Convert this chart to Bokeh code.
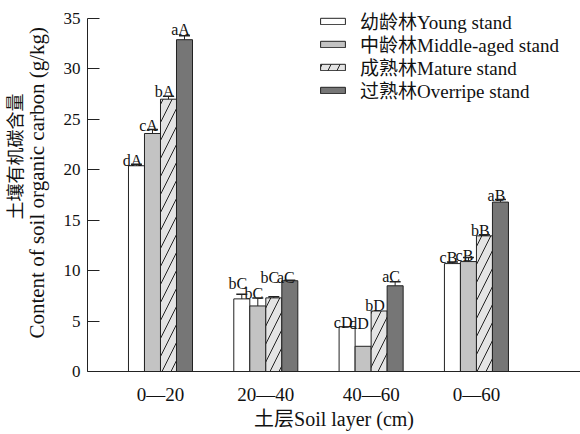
from bokeh.plotting import figure
from bokeh.models import (FixedTicker, LinearAxis, Range1d, Whisker, TeeHead,
                          ColumnDataSource, Legend, LegendItem)
from bokeh.core.properties import value
from bokeh.embed import file_html
from bokeh.resources import INLINE

# ---------------- data ----------------
layers = ["0—20", "20—40", "40—60", "0—60"]
stands = ["幼龄林Young stand", "中龄林Middle-aged stand", "成熟林Mature stand", "过熟林Overripe stand"]
young = [20.4, 7.2, 4.45, 10.7]
middle = [23.6, 6.5, 2.5, 10.9]
mature = [27.0, 7.3, 6.0, 13.45]
overripe = [32.9, 9.0, 8.5, 16.8]
young_err = [0.15, 0.45, 0.0, 0.15]
middle_err = [0.4, 0.8, 0.0, 0.4]
mature_err = [0.3, 0.1, 0.0, 0.1]
overripe_err = [0.4, 0.05, 0.4, 0.25]
young_sig = ["dA", "bC", "cD", "cB"]
middle_sig = ["cA", "bC", "dD", "cB"]
mature_sig = ["bA", "bC", "bD", "bB"]
overripe_sig = ["aA", "aC", "aC", "aB"]
# heights (data units) at which the significance letters sit in the figure
young_sig_y = [20.92, 8.70, 4.89, 11.27]
middle_sig_y = [24.39, 7.70, 4.79, 11.5]
mature_sig_y = [27.79, 9.35, 6.54, 13.98]
overripe_sig_y = [33.87, 9.35, 9.42, 17.45]
y_ticks = [0, 5, 10, 15, 20, 25, 30, 35]
y_max = 35

SERIF = "Liberation Serif, Noto Sans CJK SC"
INK = "#222222"
TXT = "#111111"

# frame spans 4..371 px; the axis itself is bounded to 0..35 (top at 18 px)
p = figure(width=580, height=434, output_backend="svg", toolbar_location=None,
           x_range=Range1d(0.307, 4.988), y_range=Range1d(0, 36.39),
           min_border_left=87, min_border_right=0, min_border_top=4,
           min_border_bottom=63)
p.xgrid.visible = False
p.ygrid.visible = False
p.outline_line_color = None
p.background_fill_color = "white"

group_x = [1, 2, 3, 4]
w = 0.152
offs = [-1.5 * w, -0.5 * w, 0.5 * w, 1.5 * w]

series = [
    (young, young_err, young_sig, young_sig_y, dict(fill_color="white")),
    (middle, middle_err, middle_sig, middle_sig_y, dict(fill_color="#c3c3c3")),
    (mature, mature_err, mature_sig, mature_sig_y,
     dict(fill_color="#e4e4e4", hatch_pattern="/", hatch_scale=18, hatch_weight=1, hatch_color=INK)),
    (overripe, overripe_err, overripe_sig, overripe_sig_y, dict(fill_color="#767676")),
]

renderers = []
for k, (vals, errs, sig, sig_y, style) in enumerate(series):
    xs = [g + offs[k] for g in group_x]
    src = ColumnDataSource(dict(x=xs, top=vals))
    r = p.vbar(x="x", top="top", width=w, bottom=0, source=src,
               line_color=INK, line_width=1, **style)
    renderers.append(r)
    # error bars (upper only)
    ex = [x for x, e in zip(xs, errs) if e > 0]
    lo = [v for v, e in zip(vals, errs) if e > 0]
    up = [v + e for v, e in zip(vals, errs) if e > 0]
    wsrc = ColumnDataSource(dict(base=ex, lower=lo, upper=up))
    wh = Whisker(base="base", lower="lower", upper="upper", source=wsrc,
                 dimension="height", line_color=INK, line_width=1,
                 lower_head=None, upper_head=TeeHead(size=11, line_color=INK, line_width=1.5),
                 level="overlay")
    p.add_layout(wh)
    # significance letters
    p.text(x=xs, y=sig_y, text=sig, text_font=value("Liberation Serif"),
           text_font_size="16px", text_align="center", text_baseline="alphabetic",
           x_offset=-4, text_color=TXT)

# ---------------- axes ----------------
xa = p.xaxis[0]
xa.ticker = FixedTicker(ticks=group_x)
xa.major_label_overrides = {g: lab for g, lab in zip(group_x, layers)}
xa.major_tick_line_color = None
xa.major_tick_out = 0
xa.major_tick_in = 0
xa.minor_tick_line_color = None
xa.axis_line_color = INK
xa.major_label_text_font = SERIF
xa.major_label_text_font_size = "19px"
xa.major_label_text_color = TXT
xa.major_label_standoff = 12
xa.axis_label = "土层Soil layer (cm)"
xa.axis_label_text_font = SERIF
xa.axis_label_text_font_size = "20px"
xa.axis_label_text_font_style = "normal"
xa.axis_label_text_color = TXT
xa.axis_label_standoff = 0

ya = p.yaxis[0]
ya.ticker = FixedTicker(ticks=y_ticks)
ya.bounds = (0, y_max)
ya.major_tick_in = 12
ya.major_tick_out = 0
ya.major_tick_line_color = INK
ya.minor_tick_line_color = None
ya.axis_line_color = INK
ya.major_label_text_font = SERIF
ya.major_label_text_font_size = "17px"
ya.major_label_text_color = TXT
ya.major_label_standoff = 7
ya.axis_label = "\u00a0" * 2 + "Content of soil organic carbon (g/kg)"
ya.axis_label_text_font = SERIF
ya.axis_label_text_font_size = "21px"
ya.axis_label_text_font_style = "normal"
ya.axis_label_text_color = TXT
ya.axis_label_standoff = 12

ya2 = LinearAxis(ticker=FixedTicker(ticks=[]), axis_line_color=None,
                 major_tick_line_color=None, minor_tick_line_color=None,
                 major_tick_out=0, major_tick_in=0, major_label_standoff=0,
                 major_label_text_font_size="0px",
                 axis_label="\u00a0" * 14 + "土壤有机碳含量",
                 axis_label_text_font=SERIF, axis_label_text_font_size="18px",
                 axis_label_text_font_style="normal", axis_label_text_color=TXT,
                 axis_label_standoff=-4)
p.add_layout(ya2, "left")

# ---------------- legend (one row per legend, rows 23 px apart) ----------------
row_y = [337, 314, 291, 268]
for s, r, yy in zip(stands, renderers, row_y):
    lg = Legend(items=[LegendItem(label=s, renderers=[r])],
                location=(230, yy), border_line_color=None, background_fill_alpha=0,
                padding=0, margin=0, spacing=0, glyph_width=31, glyph_height=8,
                label_standoff=12, label_height=20, label_text_font=SERIF,
                label_text_font_size="19px", label_text_color=TXT)
    p.add_layout(lg)

open("out.html", "w").write(file_html(p, INLINE))
